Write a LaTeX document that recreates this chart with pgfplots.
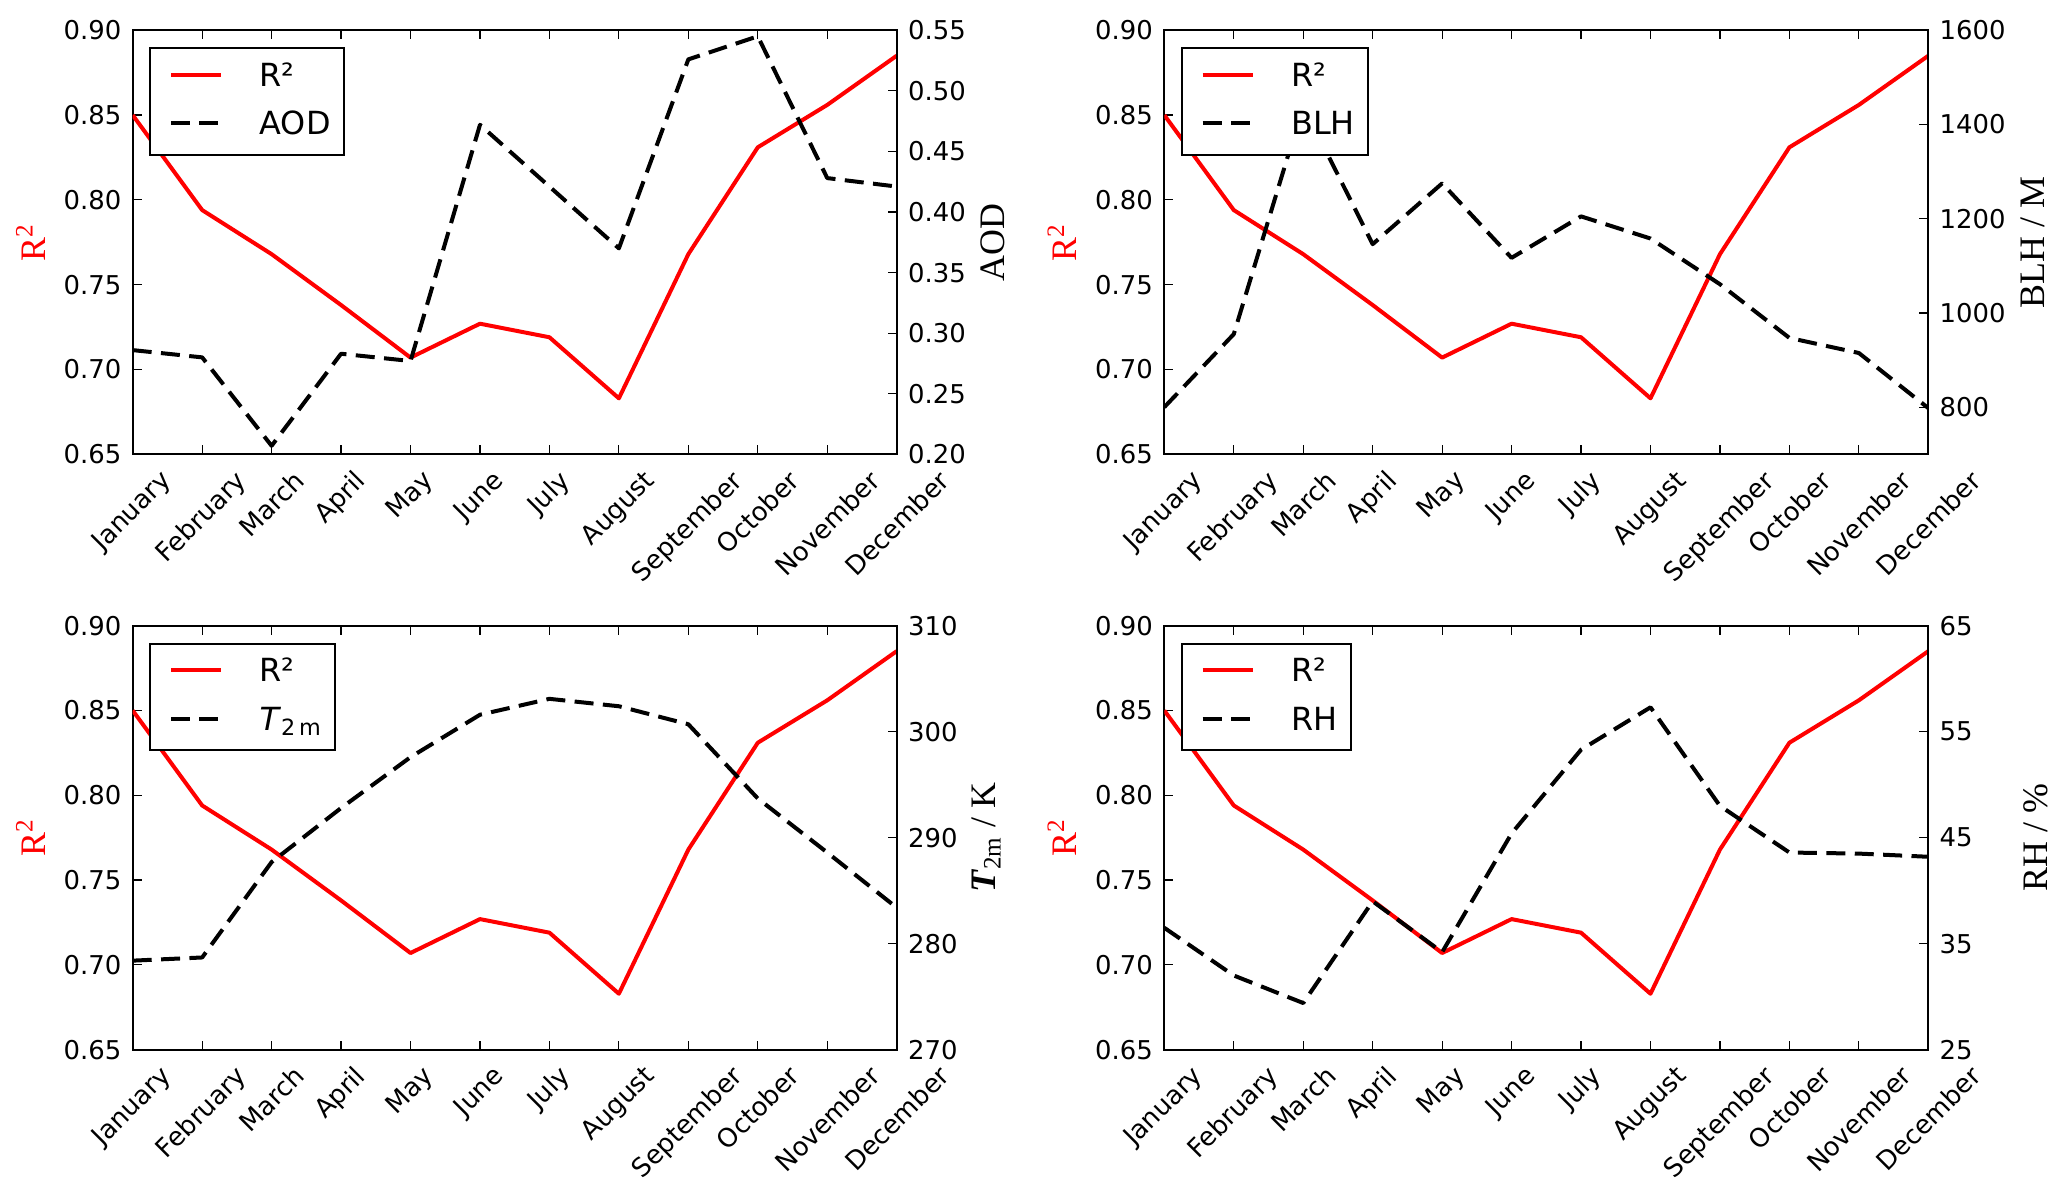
\documentclass[border=0pt]{standalone}
\usepackage{fontspec}
\setmainfont{DejaVu Sans}
\newfontfamily\serif{Liberation Serif}
\usepackage{graphicx}
\usepackage{pgfplots}
\usepackage{pgfplotstable}
\pgfplotsset{compat=1.18}

\pgfplotstableread{
x R2 AOD BLH T RH
0 0.850 0.286 800 278.4 36.5
1 0.794 0.280 955 278.7 32.0
2 0.768 0.207 1440 287.7 29.4
3 0.738 0.283 1146 292.8 39.0
4 0.707 0.277 1275 297.6 34.2
5 0.727 0.472 1117 301.6 45.4
6 0.719 0.421 1205 303.1 53.3
7 0.683 0.370 1158 302.4 57.3
8 0.768 0.526 1061 300.7 48.0
9 0.831 0.545 947 293.7 43.6
10 0.856 0.428 915 288.6 43.5
11 0.885 0.421 798 283.4 43.2
}\datatable

\pgfplotsset{
  base/.style={
    scale only axis, width=382bp, height=212bp,
    xmin=0, xmax=11,
    tick align=inside,
    major tick length=4.5bp,
    every tick/.style={black, line width=0.6bp},
    axis line style={line width=1bp},
    /pgf/number format/assume math mode=true,
    tick label style={font=\fontsize{13}{15.6}\selectfont, inner sep=0pt},
    yticklabel style={inner xsep=5.5bp},
    ylabel style={font=\fontsize{18}{21.6}\selectfont\serif},
  },
  leftax/.style={
    base,
    ymin=0.65, ymax=0.90,
    ytick={0.65,0.70,0.75,0.80,0.85,0.90},
    ytick pos=left,
    xtick pos=both,
    xticklabel pos=left,
    xtick={0,...,11},
    xticklabels={\rotatebox{45}{January},\rotatebox{45}{February},\rotatebox{45}{March},\rotatebox{45}{April},\rotatebox{45}{May},\rotatebox{45}{June},\rotatebox{45}{July},\rotatebox{45}{August},\rotatebox{45}{September},\rotatebox{45}{October},\rotatebox{45}{November},\rotatebox{45}{December}},
    xticklabel style={anchor=north, yshift=-7bp},
    yticklabel style={/pgf/number format/.cd, fixed, fixed zerofill, precision=2},
    ylabel={\color{red}R\textsuperscript{2}},
    ylabel style={at={(axis description cs:-0.1338,0.5)}, anchor=center},
  },
  rightax/.style={
    base,
    axis y line*=right,
    axis x line=none,
    xtick=\empty,
    ylabel style={at={(axis description cs:#1,0.5)}, anchor=center},
    legend style={at={(0,1)}, anchor=north west, xshift=8.15bp, yshift=-8.5bp,
      draw=black, line width=1bp, fill=white,
      inner xsep=6.65bp, inner ysep=7.3bp, row sep=9.95bp, column sep=18.35bp,
      font=\fontsize{16}{19.2}\selectfont,
      nodes={inner sep=0pt, text height=11.7bp, text depth=2.7bp},
      cells={anchor=base west}},
    legend image code/.code={%
      \path[draw=none, fill=none] (0bp,-2.7bp) (28.85bp,11.7bp);
      \draw[##1] (3.85bp,5.85bp) -- (28.85bp,5.85bp);},
  },
  rline/.style={red, line width=2bp, line join=round},
  kline/.style={black, line width=2bp, line join=round, dash pattern=on 9.5bp off 4.7bp},
}

\begin{document}
\begin{tikzpicture}
\path[use as bounding box] (0,0) rectangle (1033.5bp,599.5bp);

% ---------- top left: AOD
\begin{axis}[leftax, at={(66.35bp,372.35bp)}, anchor=south west]
\addplot[rline] table[x=x, y=R2] {\datatable};
\end{axis}
\begin{axis}[rightax=1.126, at={(66.35bp,372.35bp)}, anchor=south west,
  ymin=0.20, ymax=0.55, ytick={0.20,0.25,0.30,0.35,0.40,0.45,0.50,0.55},
  yticklabel style={/pgf/number format/.cd, fixed, fixed zerofill, precision=2},
  ylabel={AOD}]
\addlegendimage{rline}
\addlegendentry{R²}
\addplot[kline] table[x=x, y=AOD] {\datatable};
\addlegendentry{AOD}
\end{axis}

% ---------- top right: BLH
\begin{axis}[leftax, at={(582.15bp,372.35bp)}, anchor=south west]
\addplot[rline] table[x=x, y=R2] {\datatable};
\end{axis}
\begin{axis}[rightax=1.137, at={(582.15bp,372.35bp)}, anchor=south west,
  ymin=700, ymax=1600, ytick={800,1000,1200,1400,1600},
  yticklabel style={/pgf/number format/1000 sep={}},
  ylabel={BLH / M}]
\addlegendimage{rline}
\addlegendentry{R²}
\addplot[kline] table[x=x, y=BLH] {\datatable};
\addlegendentry{BLH}
\end{axis}

% ---------- bottom left: T2m
\begin{axis}[leftax, at={(66.35bp,74.65bp)}, anchor=south west]
\addplot[rline] table[x=x, y=R2] {\datatable};
\end{axis}
\begin{axis}[rightax=1.117, at={(66.35bp,74.65bp)}, anchor=south west,
  ymin=270, ymax=310, ytick={270,280,290,300,310},
  ylabel={\textbf{\textit{T}}\textsubscript{2m} / K}]
\addlegendimage{rline}
\addlegendentry{R²}
\addplot[kline] table[x=x, y=T] {\datatable};
\addlegendentry{\textit{T}\textsubscript{2\,m}}
\end{axis}

% ---------- bottom right: RH
\begin{axis}[leftax, at={(582.15bp,74.65bp)}, anchor=south west]
\addplot[rline] table[x=x, y=R2] {\datatable};
\end{axis}
\begin{axis}[rightax=1.141, at={(582.15bp,74.65bp)}, anchor=south west,
  ymin=25, ymax=65, ytick={25,35,45,55,65},
  ylabel={RH / \%}]
\addlegendimage{rline}
\addlegendentry{R²}
\addplot[kline] table[x=x, y=RH] {\datatable};
\addlegendentry{RH}
\end{axis}
\end{tikzpicture}
\end{document}
